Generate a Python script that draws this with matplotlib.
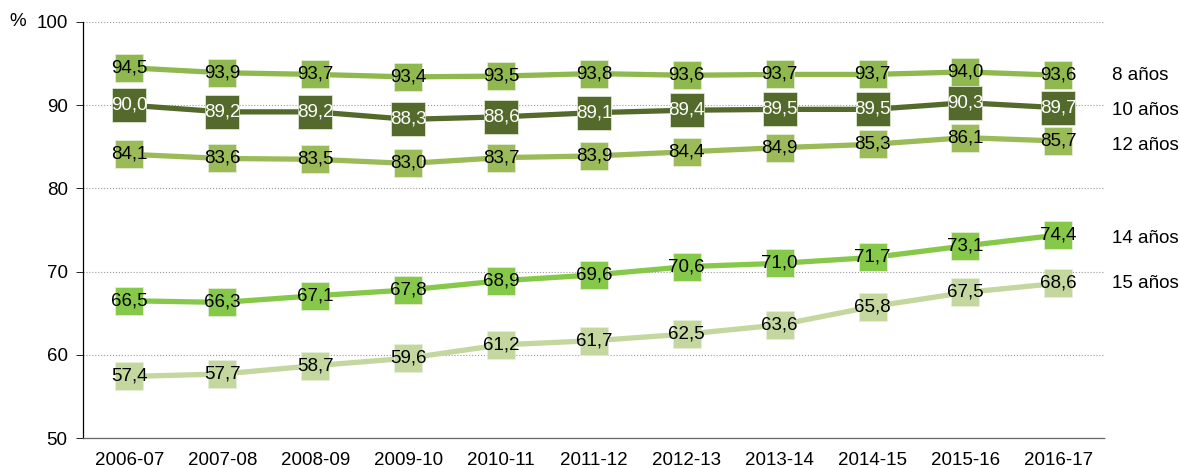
import matplotlib.pyplot as plt

cursos = ["2006-07", "2007-08", "2008-09", "2009-10", "2010-11", "2011-12",
          "2012-13", "2013-14", "2014-15", "2015-16", "2016-17"]

anos8 = [94.5, 93.9, 93.7, 93.4, 93.5, 93.8, 93.6, 93.7, 93.7, 94.0, 93.6]
anos10 = [90.0, 89.2, 89.2, 88.3, 88.6, 89.1, 89.4, 89.5, 89.5, 90.3, 89.7]
anos12 = [84.1, 83.6, 83.5, 83.0, 83.7, 83.9, 84.4, 84.9, 85.3, 86.1, 85.7]
anos14 = [66.5, 66.3, 67.1, 67.8, 68.9, 69.6, 70.6, 71.0, 71.7, 73.1, 74.4]
anos15 = [57.4, 57.7, 58.7, 59.6, 61.2, 61.7, 62.5, 63.6, 65.8, 67.5, 68.6]

# nombre, datos, color, color del texto, ajuste etiqueta, tamaño marcador
series = [
    ("8 años", anos8, "#8fb84e", "black", 0.0, 20.5),
    ("10 años", anos10, "#546a2c", "white", -0.3, 24),
    ("12 años", anos12, "#9bbb59", "black", -0.5, 20.5),
    ("14 años", anos14, "#86c94a", "black", -0.4, 20.5),
    ("15 años", anos15, "#c4d79e", "black", 0.0, 20.5),
]

plt.rcParams['font.family'] = ['Liberation Sans', 'DejaVu Sans']
fs = 13.5

fig = plt.figure(figsize=(11.8, 4.68), dpi=100)
ax = fig.add_axes([0.0703, 0.064, 0.866, 0.889])

x = list(range(len(cursos)))
for nombre, vals, col, tcol, dy, ms in series:
    ax.plot(x, vals, color=col, lw=3.8, marker='s', ms=ms,
            markeredgewidth=0.5, markeredgecolor='#e8efdc', zorder=3)
    for xi, v in zip(x, vals):
        ax.text(xi, v, ("%.1f" % v).replace('.', ','), ha='center', va='center',
                fontsize=fs, color=tcol, zorder=4)
    ax.text(1.007, (vals[-1] + dy - 50) / 50, nombre, transform=ax.transAxes,
            ha='left', va='center', fontsize=fs)

ax.set_xlim(-0.5, len(cursos) - 0.5)
ax.set_ylim(50, 100)
ax.set_yticks([50, 60, 70, 80, 90, 100])
ax.set_xticks(x)
ax.set_xticklabels(cursos)
ax.tick_params(axis='x', length=0, labelsize=fs, pad=10)
ax.tick_params(axis='y', length=5, width=0.6, direction='out', labelsize=fs, pad=6)

ax.grid(axis='y', ls=':', color='#999999', lw=0.8)
ax.set_axisbelow(True)
for s in ['top', 'right']:
    ax.spines[s].set_visible(False)
ax.spines['left'].set_linestyle((0, (1, 1)))
ax.spines['left'].set_linewidth(0.9)
ax.spines['bottom'].set_linestyle((0, (1, 1)))
ax.spines['bottom'].set_linewidth(0.9)
ax.spines['bottom'].set_color('#666666')

fig.text(18 / 1180, 1 - 22 / 468, "%", ha='center', va='center', fontsize=fs)

plt.savefig('out.png')
